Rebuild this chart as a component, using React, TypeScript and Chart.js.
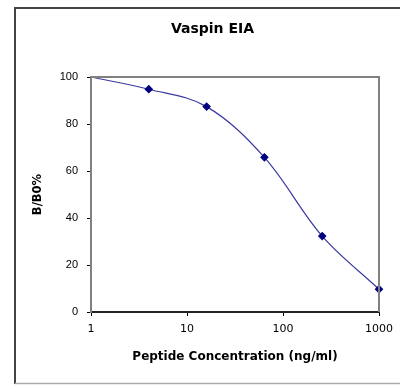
import React, { useEffect, useRef } from "react";
import { Chart, registerables } from "chart.js";

Chart.register(...registerables);

const concentrations = [1, 4, 16, 64, 256, 1000];
const bb0Percent = [100, 94.8, 87.4, 65.8, 32.3, 9.7];
const xTickValues = [1, 10, 100, 1000];
const yTickValues = [0, 20, 40, 60, 80, 100];
const chartTitle = "Vaspin EIA";
const xTitle = "Peptide Concentration (ng/ml)";
const yTitle = "B/B0%";

const WIDE = "'DejaVu Sans', Verdana, sans-serif";
const NARROW = "'Liberation Sans Narrow', 'Arial Narrow', Arial, sans-serif";

const framePlugin = {
  id: "frame",
  afterDraw(chart: any) {
    const { ctx, chartArea } = chart;
    ctx.save();
    ctx.strokeStyle = "#444";
    ctx.lineWidth = 2;
    ctx.beginPath();
    ctx.moveTo(15, 384);
    ctx.lineTo(15, 8);
    ctx.lineTo(400, 8);
    ctx.stroke();
    ctx.strokeStyle = "#aaa";
    ctx.lineWidth = 1.5;
    ctx.beginPath();
    ctx.moveTo(15, 383.5);
    ctx.lineTo(400, 383.5);
    ctx.stroke();
    ctx.strokeStyle = "#808080";
    ctx.lineWidth = 2;
    ctx.beginPath();
    ctx.moveTo(chartArea.left, chartArea.top);
    ctx.lineTo(chartArea.right, chartArea.top);
    ctx.lineTo(chartArea.right, chartArea.bottom);
    ctx.stroke();
    // chart title
    ctx.fillStyle = "#000";
    ctx.font = `bold 14px ${WIDE}`;
    ctx.textAlign = "center";
    ctx.textBaseline = "middle";
    ctx.fillText(chartTitle, 212.5, 29);
    ctx.restore();
  },
};

export default function App() {
  const ref = useRef<HTMLCanvasElement>(null);
  useEffect(() => {
    if (!ref.current) return;
    const chart = new Chart(ref.current, {
      type: "scatter",
      data: {
        datasets: [
          {
            data: concentrations.map((x, i) => ({ x, y: bb0Percent[i] })),
            showLine: true,
            borderColor: "#3a3aa0",
            borderWidth: 1.2,
            tension: 0.35,
            pointStyle: "rectRot",
            pointRadius: concentrations.map((_, i) => (i === 0 ? 0 : 3.5)),
            pointBackgroundColor: "#000080",
            pointBorderColor: "#000080",
            clip: false as any,
          },
        ],
      },
      plugins: [framePlugin],
      options: {
        animation: false,
        responsive: false,
        devicePixelRatio: 1,
        layout: { padding: { left: 15, right: 20, top: 77, bottom: 0 } },
        plugins: {
          legend: { display: false },
          tooltip: { enabled: false },
          title: { display: false },
        },
        scales: {
          x: {
            type: "logarithmic",
            min: 1,
            max: 1000,
            afterBuildTicks: (scale: any) => {
              scale.ticks = xTickValues.map((v) => ({ value: v }));
            },
            afterFit: (scale: any) => {
              scale.height = 73;
            },
            ticks: {
              color: "#000",
              font: { family: WIDE, size: 11 },
              padding: 7,
              autoSkip: false,
              maxRotation: 0,
              callback: (v: any) => String(v),
            },
            grid: {
              drawOnChartArea: false,
              drawTicks: true,
              tickLength: 4,
              color: "#000",
            },
            border: { color: "#222", width: 2 },
            title: {
              display: true,
              text: xTitle,
              color: "#000",
              font: { family: WIDE, size: 12, weight: "bold" },
              padding: { top: 0, bottom: 21 },
            },
          },
          y: {
            min: 0,
            max: 100,
            afterBuildTicks: (scale: any) => {
              scale.ticks = yTickValues.map((v) => ({ value: v }));
            },
            afterFit: (scale: any) => {
              scale.width = 76;
            },
            ticks: {
              color: "#000",
              font: { family: NARROW, size: 11 },
              padding: 9,
            },
            grid: {
              drawOnChartArea: false,
              drawTicks: true,
              tickLength: 4,
              color: "#000",
            },
            border: { color: "#808080", width: 2 },
            title: {
              display: true,
              text: yTitle,
              color: "#000",
              font: { family: WIDE, size: 11.5, weight: "bold" },
              padding: { top: 16, bottom: 0 },
            },
          },
        },
      },
    });
    return () => chart.destroy();
  }, []);
  return (
    <div style={{ position: "absolute", left: 0, top: 0, width: 400, height: 385, background: "#fff" }}>
      <canvas ref={ref} width={400} height={385} style={{ display: "block" }} />
    </div>
  );
}
